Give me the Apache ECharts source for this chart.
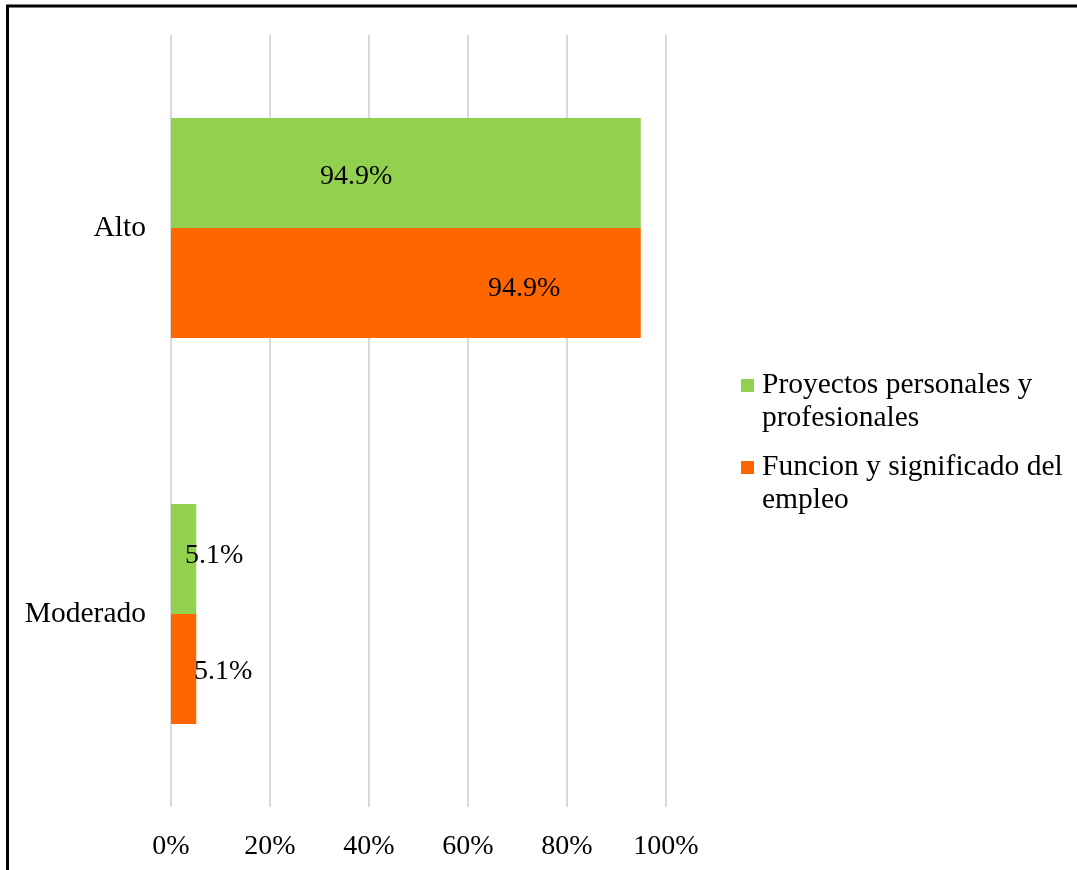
<!DOCTYPE html>
<html>
<head>
<meta charset="utf-8">
<title>Proyectos personales y profesionales / Funcion y significado del empleo</title>
<script src="https://cdn.jsdelivr.net/npm/echarts@6/dist/echarts.min.js"></script>
<style>
  html, body { margin: 0; padding: 0; background: #ffffff; }
  #chart { width: 1077px; height: 870px; }
</style>
</head>
<body>
<div id="chart"></div>
<script>
// Levels shown on the category axis (top to bottom)
const categories = ['Alto', 'Moderado'];

// Series names and their values (percent)
const seriesNames = ['Proyectos personales y\nprofesionales', 'Funcion y significado del\nempleo'];
const proyectos = [94.9, 5.1];
const funcion = [94.9, 5.1];

// Value axis ticks
const tickValues = [0, 20, 40, 60, 80, 100];

const FONT = '"Liberation Serif", "Times New Roman", serif';
const GREEN = '#92D050';
const ORANGE = '#FF6600';

// Placement of each value label inside its bar: [px from bar start, vertical nudge]
const labelPlacement = {
  proyectos: [[149, 4], [14, -3]],
  funcion: [[317, 6], [23, 3]]
};

function barSeries(name, values, color, placement) {
  return {
    name: name,
    type: 'bar',
    barGap: 0,
    barCategoryGap: '43%',
    itemStyle: { color: color },
    data: values.map((v, i) => ({
      value: v,
      label: {
        show: true,
        position: [placement[i][0], '50%'],
        offset: [0, placement[i][1]],
        align: 'left',
        verticalAlign: 'middle',
        formatter: (p) => p.value.toFixed(1) + '%',
        fontFamily: FONT,
        fontSize: 28,
        color: '#000000'
      }
    }))
  };
}

const chart = echarts.init(document.getElementById('chart'), null, { renderer: 'canvas' });

chart.setOption({
  backgroundColor: '#ffffff',
  animation: false,
  textStyle: { fontFamily: FONT },
  graphic: [{
    type: 'polyline',
    shape: { points: [[7.5, 880], [7.5, 6], [1090, 6]] },
    style: { stroke: '#000000', lineWidth: 3, fill: null },
    silent: true
  }],
  grid: {
    left: 171,
    right: 411,
    top: 35,
    bottom: 63,
    containLabel: false
  },
  legend: {
    orient: 'vertical',
    left: 736,
    top: 331,
    itemWidth: 13,
    itemHeight: 13,
    itemGap: -17,
    icon: 'rect',
    data: seriesNames,
    // leading blank line keeps the marker level with the first line of text
    formatter: (name) => '\n' + name,
    textStyle: {
      fontFamily: FONT,
      fontSize: 29.5,
      lineHeight: 33,
      color: '#000000',
      padding: [0, 0, 0, 3]
    }
  },
  xAxis: {
    type: 'value',
    min: tickValues[0],
    max: tickValues[tickValues.length - 1],
    interval: tickValues[1] - tickValues[0],
    axisLine: { show: false },
    axisTick: { show: false },
    splitLine: { show: true, lineStyle: { color: '#d9d9d9', width: 2 } },
    axisLabel: {
      formatter: '{value}%',
      fontFamily: FONT,
      fontSize: 28,
      color: '#000000',
      margin: 26
    }
  },
  yAxis: {
    type: 'category',
    inverse: true,
    data: categories,
    axisLine: { show: false },
    axisTick: { show: false },
    axisLabel: {
      fontFamily: FONT,
      fontSize: 29.5,
      color: '#000000',
      margin: 25
    }
  },
  series: [
    barSeries(seriesNames[0], proyectos, GREEN, labelPlacement.proyectos),
    barSeries(seriesNames[1], funcion, ORANGE, labelPlacement.funcion)
  ]
});
</script>
</body>
</html>
